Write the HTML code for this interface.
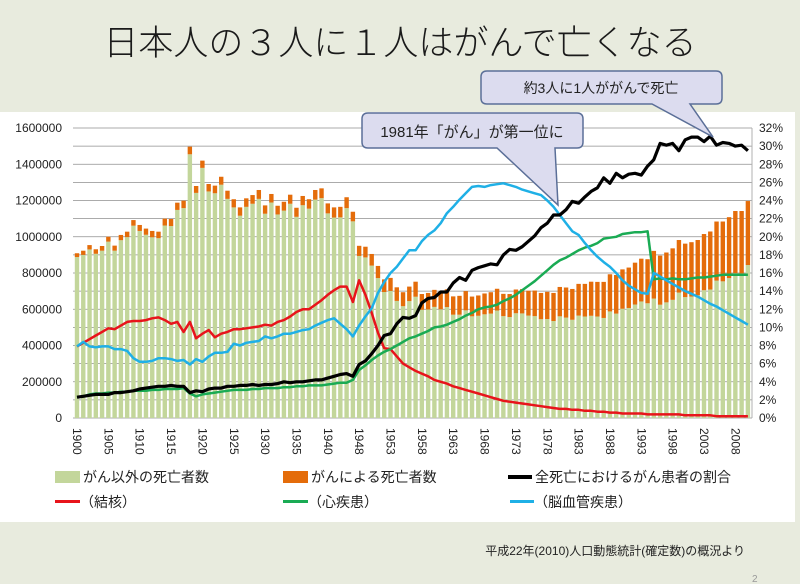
<!DOCTYPE html>
<html><head><meta charset="utf-8">
<style>
html,body{margin:0;padding:0;width:800px;height:584px;overflow:hidden;background:#e8ebde;}
svg{display:block;font-family:"Liberation Sans","Noto Sans CJK JP",sans-serif;}
</style></head>
<body>
<svg id="chart" width="800" height="584" viewBox="0 0 800 584" xmlns="http://www.w3.org/2000/svg">
<rect x="0" y="0" width="800" height="584" fill="#e8ebde"/>
<rect x="0" y="112" width="795" height="410" fill="#ffffff"/>
<text x="400" y="55" text-anchor="middle" font-size="35" fill="#1a1a1a" font-family="'Noto Sans CJK JP',sans-serif" font-weight="300">日本人の３人に１人はがんで亡くなる</text>
<g id="grid"></g>
<g id="bars"></g>
<g id="lines"></g>
<g id="axes"></g>
<g>
<path d="M368,113 H577 Q583,113 583,119 V142 Q583,148 577,148 H555 L558,205 L497,148 H368 Q362,148 362,142 V119 Q362,113 368,113 Z" fill="#dcdcef" stroke="#5b6f98" stroke-width="1.5"/>
<text x="472" y="137" text-anchor="middle" font-size="15" fill="#222">1981年「がん」が第一位に</text>
</g>
<g>
<path d="M487,71 H716 Q722,71 722,77 V98 Q722,104 716,104 H690 L713,137 L652,104 H487 Q481,104 481,98 V77 Q481,71 487,71 Z" fill="#dcdcef" stroke="#5b6f98" stroke-width="1.5"/>
<text x="601" y="93" text-anchor="middle" font-size="14" fill="#222">約3人に1人ががんで死亡</text>
</g>
<g font-size="14" fill="#222">
<rect x="55" y="471" width="25" height="12" fill="#c3d69b"/>
<text x="83" y="482">がん以外の死亡者数</text>
<rect x="283" y="471" width="25" height="12" fill="#e46c0a"/>
<text x="311" y="482">がんによる死亡者数</text>
<rect x="508" y="475" width="24" height="4" fill="#000"/>
<text x="535" y="482">全死亡におけるがん患者の割合</text>
<rect x="55" y="500" width="25" height="3" fill="#e8141b"/>
<text x="80" y="507">（結核）</text>
<rect x="283" y="500" width="25" height="3" fill="#1aab54"/>
<text x="308" y="507">（心疾患）</text>
<rect x="510" y="500" width="24" height="3" fill="#1fb0e6"/>
<text x="534" y="507">（脳血管疾患）</text>
</g>
<text x="745" y="555" text-anchor="end" font-size="12" fill="#222">平成22年(2010)人口動態統計(確定数)の概況より</text>
<text x="752" y="582" font-size="10" fill="#999">2</text>
</svg>
<script>
const years = [1900,1901,1902,1903,1904,1905,1906,1907,1908,1909,1910,1911,1912,1913,1914,1915,1916,1917,1918,1919,1920,1921,1922,1923,1924,1925,1926,1927,1928,1929,1930,1931,1932,1933,1934,1935,1936,1937,1938,1939,1940,1941,1942,1943,
1947,1948,1949,1950,1951,1952,1953,1954,1955,1956,1957,1958,1959,1960,1961,1962,1963,1964,1965,1966,1967,1968,1969,1970,1971,1972,1973,1974,1975,1976,1977,1978,1979,1980,1981,1982,1983,1984,1985,1986,1987,1988,1989,1990,1991,1992,1993,1994,1995,1996,1997,1998,1999,2000,2001,2002,2003,2004,2005,2006,2007,2008,2009,2010];
const totalDeaths = [909,923,954,931,949,1000,951,1010,1028,1092,1065,1045,1032,1028,1100,1098,1188,1199,1497,1280,1420,1291,1282,1331,1254,1207,1162,1212,1230,1258,1173,1236,1171,1193,1232,1160,1225,1207,1258,1267,1184,1162,1165,1218,
1138,950,945,905,839,765,773,721,694,725,752,684,690,707,696,710,671,674,700,670,676,687,694,713,685,684,709,711,702,703,690,696,690,723,720,712,740,740,752,751,751,793,789,820,830,857,879,876,922,896,913,936,982,962,970,982,1015,1029,1084,1084,1108,1142,1142,1197];
const cancerDeaths = [21,23,24,25,26,27,28,29,30,31,33,34,35,36,38,39,40,41,42,38,40,41,42,44,45,45,46,47,48,49,46,47,48,49,50,50,51,52,53,54,55,56,58,60,
53,56,59,64,67,70,72,75,77,80,83,87,91,94,96,98,101,104,106,109,112,115,118,120,123,127,131,134,137,141,145,150,155,162,166,170,175,180,188,191,199,205,213,217,223,231,236,243,263,271,275,284,290,295,300,305,310,320,326,330,336,343,344,353];
const pctCancer = [2.3,2.4,2.5,2.6,2.6,2.6,2.8,2.8,2.9,3.0,3.2,3.3,3.4,3.5,3.5,3.6,3.5,3.5,2.8,3.0,2.9,3.2,3.3,3.3,3.5,3.5,3.6,3.6,3.7,3.6,3.7,3.7,3.8,4.0,3.9,4.0,4.0,4.1,4.2,4.2,4.4,4.6,4.8,4.9,
4.6,5.9,6.3,7.1,8.0,9.1,9.3,10.4,11.1,11.0,11.3,12.7,13.2,13.3,13.9,13.9,14.9,15.5,15.2,16.3,16.6,16.8,17.0,16.9,18.0,18.6,18.5,18.9,19.5,20.1,21.0,21.5,22.4,22.4,23.0,23.9,23.7,24.4,25.0,25.4,26.5,25.9,27.0,26.5,26.9,27.0,26.8,27.8,28.5,30.3,30.1,30.3,29.5,30.7,31.0,31.0,30.5,31.1,30.1,30.4,30.3,30.0,30.1,29.5];
const pctTB = [7.9,8.3,8.7,9.1,9.5,9.9,9.8,10.2,10.6,10.7,10.7,10.8,11.0,11.1,10.8,10.4,10.6,9.5,10.6,8.8,9.3,9.7,8.9,9.3,9.5,9.8,9.8,9.9,10.0,10.1,10.3,10.2,10.6,10.8,11.2,11.7,12.0,12.0,12.5,13.0,13.6,14.1,14.5,14.5,
12.8,15.2,13.6,11.6,9.4,7.7,7.6,6.8,6.0,5.6,5.2,4.9,4.6,4.2,4.0,3.8,3.5,3.3,3.1,2.9,2.7,2.5,2.3,2.1,1.9,1.8,1.7,1.6,1.5,1.4,1.3,1.2,1.1,1.0,1.0,0.9,0.9,0.8,0.8,0.7,0.7,0.6,0.6,0.5,0.5,0.5,0.5,0.4,0.4,0.4,0.4,0.4,0.4,0.3,0.3,0.3,0.3,0.3,0.2,0.2,0.2,0.2,0.2,0.2];
const pctStroke = [7.9,8.4,7.9,7.8,7.9,7.9,7.6,7.6,7.4,6.6,6.2,6.2,6.3,6.6,6.6,6.5,6.3,6.4,5.9,6.5,6.2,6.8,7.2,7.2,7.3,8.2,8.0,8.3,8.4,8.5,9.0,8.8,9.0,9.3,9.3,9.5,9.7,9.8,10.2,10.5,10.8,11.0,10.4,9.8,
9.0,10.2,11.2,12.1,13.8,15.0,16.0,16.7,17.6,18.5,18.5,19.5,20.2,20.7,21.5,22.6,23.3,24.1,24.8,25.5,25.6,25.5,25.7,25.8,25.9,25.7,25.5,25.2,25.0,24.8,24.6,24.0,23.3,22.4,21.5,20.6,20.2,19.3,18.5,17.8,17.2,16.7,16.0,15.2,14.6,14.2,13.8,13.7,16.0,15.6,15.2,14.8,14.4,14.0,13.7,13.4,13.0,12.6,12.3,11.9,11.5,11.1,10.7,10.3];
const pctHeart = [2.3,2.4,2.6,2.7,2.7,2.8,2.8,2.9,2.9,3.0,3.0,3.0,3.1,3.1,3.2,3.2,3.2,3.3,2.7,2.4,2.6,2.7,2.8,2.9,3.0,3.1,3.1,3.1,3.2,3.2,3.3,3.3,3.3,3.4,3.4,3.5,3.5,3.6,3.6,3.6,3.7,3.8,3.9,3.9,
4.2,5.3,5.8,6.4,6.9,7.3,7.6,8.0,8.4,8.8,9.0,9.3,9.6,10.0,10.1,10.3,10.6,10.9,11.3,11.6,12.0,12.2,12.3,12.5,12.9,13.2,13.6,14.1,14.6,15.1,15.7,16.3,16.9,17.4,17.7,18.1,18.5,18.8,19.0,19.3,19.8,19.9,20.0,20.3,20.4,20.5,20.5,20.6,15.3,15.4,15.3,15.4,15.3,15.3,15.4,15.5,15.5,15.6,15.7,15.8,15.8,15.8,15.8,15.8];
const leftTicks = [0,200000,400000,600000,800000,1000000,1200000,1400000,1600000];
const rightTicks = [0,2,4,6,8,10,12,14,16,18,20,22,24,26,28,30,32];
const xLabelYears = [1900,1905,1910,1915,1920,1925,1930,1935,1940,1948,1953,1958,1963,1968,1973,1978,1983,1988,1993,1998,2003,2008];

const NS = "http://www.w3.org/2000/svg";
const X0 = 77, STEP = 6.27, Y0 = 418, PH = 290;
function xPos(i){ return X0 + STEP * i; }
function yLeft(v){ return Y0 - v / 1600000 * PH; }
function yRight(p){ return Y0 - p / 32 * PH; }
function mk(tag, attrs, parent){
  const el = document.createElementNS(NS, tag);
  for (const k in attrs) el.setAttribute(k, attrs[k]);
  parent.appendChild(el);
  return el;
}
const grid = document.getElementById('grid');
const bars = document.getElementById('bars');
const lines = document.getElementById('lines');
const axes = document.getElementById('axes');

for (let k = 0; k <= 16; k++) {
  const y = yLeft(k * 100000);
  const g = mk('line', {x1: 73, x2: 752, y1: y, y2: y, stroke: '#8f8f8f', 'stroke-width': 0.8}, grid);
  
  
}
const rAxis = mk('line', {x1: 752, x2: 752, y1: yLeft(1600000), y2: Y0, stroke: '#b0b0b0', 'stroke-width': 1}, axes);



for (let i = 0; i < years.length; i++) {
  const tot = totalDeaths[i] * 1000, can = cancerDeaths[i] * 1000;
  const x = xPos(i) - 2.2;
  const yNon = yLeft(tot - can), yTot = yLeft(tot);
  const b1 = mk('rect', {x: x, y: yNon, width: 4.4, height: Y0 - yNon, fill: '#c3d69b'}, bars);
  
  
  const b2 = mk('rect', {x: x, y: yTot, width: 4.4, height: yNon - yTot, fill: '#e46c0a'}, bars);
  
  
}

function drawLine(arr, color, w, name){
  let d = '';
  arr.forEach((p, i) => { d += (i ? 'L' : 'M') + xPos(i).toFixed(1) + ',' + yRight(p).toFixed(1); });
  const el = mk('path', {d: d, fill: 'none', stroke: color, 'stroke-width': w, 'stroke-linejoin': 'round'}, lines);
  
  
}
drawLine(pctTB, '#e8141b', 2.5, 'line-tuberculosis');
drawLine(pctHeart, '#1aab54', 2.5, 'line-heart-disease');
drawLine(pctStroke, '#1fb0e6', 2.5, 'line-cerebrovascular');
drawLine(pctCancer, '#000000', 3.2, 'line-cancer-ratio');

leftTicks.forEach(v => {
  const t = mk('text', {x: 62, y: yLeft(v) + 4, 'text-anchor': 'end', 'font-size': 12, fill: '#222'}, axes);
  t.textContent = String(v);
  
  
});
rightTicks.forEach(p => {
  const t = mk('text', {x: 759, y: yRight(p) + 4, 'font-size': 12, fill: '#222'}, axes);
  t.textContent = p + '%';
  
  
});
xLabelYears.forEach(yr => {
  const i = years.indexOf(yr);
  const x = xPos(i);
  const t = mk('text', {x: 0, y: 0, 'font-size': 12, fill: '#222', transform: 'translate(' + (x - 4) + ',428) rotate(90)'}, axes);
  t.textContent = String(yr);
  
  
});
</script>
</body></html>
